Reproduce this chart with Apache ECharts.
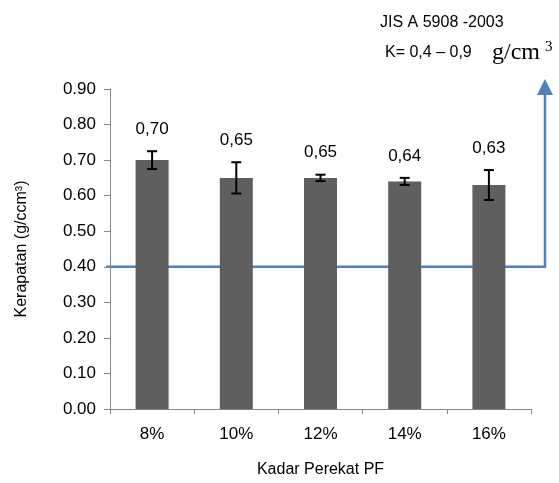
<!DOCTYPE html><html><head><meta charset="utf-8">
<script src="https://cdn.jsdelivr.net/npm/echarts@6/dist/echarts.min.js"></script>
<style>html,body{margin:0;background:#fff}#c{width:559px;height:483px}</style></head><body><div id="c"></div>
<script>
const categories=['8%','10%','12%','14%','16%'];
const values=[0.70,0.65,0.65,0.64,0.63];
const errors=[0.025,0.044,0.009,0.010,0.042];
const labels=['0,70','0,65','0,65','0,64','0,63'];
const standardMin=0.40;
const chart=echarts.init(document.getElementById('c'));
const font='"Liberation Sans", Arial, sans-serif';
const axisGrey='#868686';
chart.setOption({
 animation:false,
 grid:{left:110,right:28,top:89,bottom:66},
 xAxis:{type:'category',data:categories,
  axisTick:{show:true,length:5,lineStyle:{color:axisGrey}},
  axisLine:{lineStyle:{color:axisGrey}},
  axisLabel:{color:'#000',fontSize:17,fontFamily:font,margin:17},
  name:'Kadar Perekat PF',nameLocation:'middle',nameGap:53,
  nameTextStyle:{color:'#000',fontSize:16,fontFamily:font}},
 yAxis:{type:'value',min:0,max:0.9,interval:0.1,
  axisLine:{show:true,lineStyle:{color:axisGrey}},axisTick:{show:true,length:6,lineStyle:{color:axisGrey}},
  splitLine:{show:false},
  axisLabel:{color:'#000',fontSize:17,fontFamily:font,margin:14,formatter:v=>v.toFixed(2)},
  name:'Kerapatan (g/ccm³)',nameLocation:'middle',nameGap:80,
  nameTextStyle:{color:'#000',fontSize:16,fontFamily:font}},
 series:[
  {type:'bar',data:values,barWidth:33,itemStyle:{color:'#5f5f5f'}},
  {type:'custom',data:values.map((v,i)=>[i,v,errors[i]]),z:5,
   renderItem:(p,api)=>{
     const x=api.coord([api.value(0),0])[0];
     const hi=api.coord([api.value(0),api.value(1)+api.value(2)])[1];
     const lo=api.coord([api.value(0),api.value(1)-api.value(2)])[1];
     const s={stroke:'#000',lineWidth:2};
     return {type:'group',children:[
      {type:'line',shape:{x1:x,y1:hi,x2:x,y2:lo},style:s},
      {type:'line',shape:{x1:x-5,y1:hi,x2:x+5,y2:hi},style:s},
      {type:'line',shape:{x1:x-5,y1:lo,x2:x+5,y2:lo},style:s},
      {type:'text',style:{x:x,y:hi-22,text:labels[p.dataIndex],
        textAlign:'center',textVerticalAlign:'middle',fill:'#000',font:'17px '+font}}
     ]};
   }}
 ]
});
const yS=chart.convertToPixel({yAxisIndex:0},standardMin);
chart.setOption({graphic:[
 {type:'polyline',shape:{points:[[106,yS],[545,yS],[545,94]]},style:{stroke:'#4f81bd',lineWidth:2.5,fill:null}},
 {type:'polygon',shape:{points:[[537,95],[553,95],[545,79]]},style:{fill:'#4f81bd'}},
 {type:'text',style:{x:380,y:23,text:'JIS A 5908 -2003',fill:'#000',font:'16px '+font,textVerticalAlign:'middle'}},
 {type:'text',style:{x:385,y:53,text:'K= 0,4 – 0,9',fill:'#000',font:'16px '+font,textVerticalAlign:'middle'}},
 {type:'text',style:{x:492,y:53,text:'g/cm',fill:'#000',font:'24px "Liberation Serif", serif',textVerticalAlign:'middle'}},
 {type:'text',style:{x:545,y:47,text:'3',fill:'#000',font:'15px "Liberation Serif", serif',textVerticalAlign:'middle'}}
]});
</script></body></html>
